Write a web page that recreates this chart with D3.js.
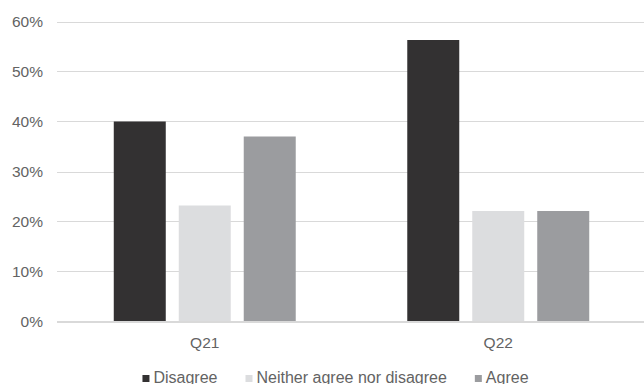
<!DOCTYPE html>
<html><head><meta charset="utf-8">
<script src="https://cdn.jsdelivr.net/npm/d3@7"></script>
<style>
html,body{margin:0;padding:0;background:#fff;}
svg{display:block;font-family:"Liberation Sans",Arial,sans-serif;}
</style></head>
<body><svg id="c" width="644" height="384"></svg>
<script>
const categories = ["Q21", "Q22"];
const seriesNames = ["Disagree", "Neither agree nor disagree", "Agree"];
const disagree = [0.40, 0.563];
const neither = [0.232, 0.221];
const agree = [0.37, 0.221];
const yTicks = [0, 0.1, 0.2, 0.3, 0.4, 0.5, 0.6];
const colors = ["#333132", "#dcdddf", "#9b9c9f"];

const seriesValues = [disagree, neither, agree];
const svg = d3.select("#c");
const textColor = "#636363";

const x = d3.scaleBand().domain(categories).range([58, 645]).paddingInner(0.38).paddingOuter(0.19);
const xi = d3.scaleBand().domain(seriesNames).range([0, x.bandwidth()]).paddingInner(0.2).paddingOuter(0);
const y = d3.scaleLinear().domain([0, 0.6]).range([321.5, 21.5]);

// gridlines
svg.append("g").selectAll("line").data(yTicks).join("line")
  .attr("x1", 57).attr("x2", 644)
  .attr("y1", d => Math.round(y(d)) + 0.5).attr("y2", d => Math.round(y(d)) + 0.5)
  .attr("stroke", "#d9d9d9").attr("stroke-width", 1);

// y labels
const yAxis = d3.axisLeft(y).tickValues(yTicks).tickFormat(d3.format(".0%")).tickSize(0).tickPadding(0);
const ya = svg.append("g").attr("transform", "translate(43,0)").call(yAxis);
ya.select(".domain").remove();
ya.selectAll("text").attr("fill", textColor).style("font-size", "15.5px").attr("font-family", "Liberation Sans, Arial, sans-serif");

// bars
const groups = svg.append("g").selectAll("g").data(categories).join("g")
  .attr("transform", d => `translate(${x(d)},0)`);
groups.selectAll("rect").data((c, ci) => seriesNames.map((s, si) => ({s, si, v: seriesValues[si][ci]})))
  .join("rect")
  .attr("x", d => xi(d.s)).attr("width", xi.bandwidth())
  .attr("y", d => y(d.v)).attr("height", d => y(0) - y(d.v))
  .attr("fill", d => colors[d.si]);

// baseline
svg.append("line").attr("x1", 57).attr("x2", 644).attr("y1", 321.5).attr("y2", 321.5)
  .attr("stroke", "#d9d9d9");

// x labels
const xAxis = d3.axisBottom(x).tickSize(0).tickPadding(0);
const xa = svg.append("g").attr("transform", "translate(0,337)").call(xAxis);
xa.select(".domain").remove();
xa.selectAll("text").attr("fill", textColor).style("font-size", "15.5px").attr("font-family", "Liberation Sans, Arial, sans-serif");

// legend
const lg = svg.append("g");
let cx = 0;
seriesNames.forEach((s, i) => {
  const g = lg.append("g").attr("transform", `translate(${cx},0)`);
  g.append("rect").attr("x", 0).attr("y", 375).attr("width", 7).attr("height", 7).attr("fill", colors[i]);
  const t = g.append("text").attr("x", 11).attr("y", 382.5).attr("fill", textColor)
    .style("font-size", "16px").text(s);
  cx += 11 + t.node().getComputedTextLength() + 28;
});
const total = cx - 28;
lg.attr("transform", `translate(${335.5 - total / 2},0)`);
</script></body></html>
